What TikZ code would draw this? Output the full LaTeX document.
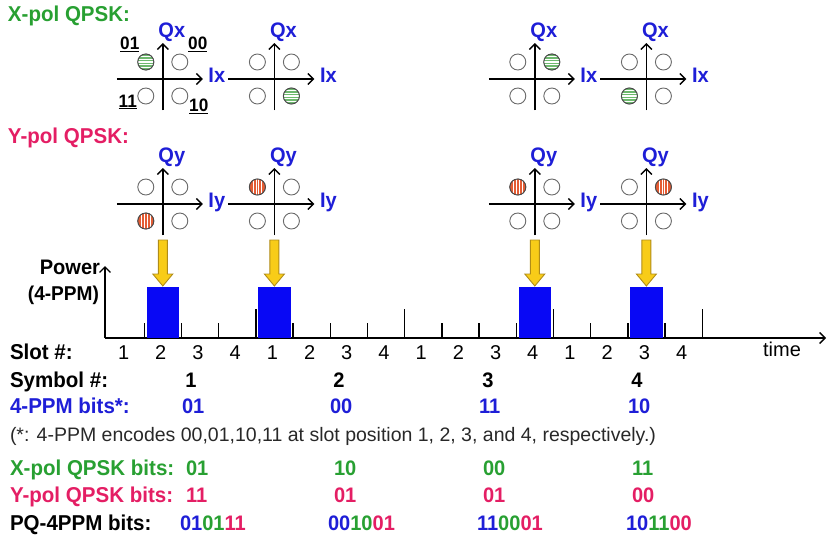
\documentclass[tikz,border=0pt]{standalone}
\usepackage{fontspec}
\setmainfont{Liberation Sans}[BoldFeatures={FakeStretch=0.955}]
\usetikzlibrary{arrows.meta}

\definecolor{xgreen}{RGB}{40,160,50}
\definecolor{ypink}{RGB}{228,30,100}
\definecolor{lblue}{RGB}{30,30,215}
\definecolor{pulseblue}{RGB}{8,8,245}
\definecolor{arrowyellow}{RGB}{248,204,24}
\definecolor{arrowedge}{RGB}{176,140,24}
\definecolor{ringgray}{RGB}{105,105,105}
\definecolor{dotgreen}{RGB}{110,185,110}
\definecolor{dotred}{RGB}{228,92,52}
\definecolor{notegray}{RGB}{40,40,40}

\newcommand\txtsize[1]{\fontsize{#1}{#1}\selectfont}

\tikzset{
  every node/.style={inner sep=0pt, outer sep=0pt},
  axisline/.style={line width=1.5pt, -{Straight Barb[length=5.5pt,width=11pt,line width=1.4pt]}},
  hdr/.style={font=\txtsize{21.5}\bfseries, anchor=mid west},
  axlbl/.style={font=\txtsize{21}\bfseries, text=lblue},
  bitlbl/.style={font=\txtsize{18}\bfseries},
  slotlbl/.style={font=\txtsize{20}, anchor=mid},
  vallbl/.style={font=\txtsize{21}\bfseries, anchor=mid west},
  ring/.style={draw=ringgray, line width=0.9pt, fill=white},
  pulse/.style={fill=pulseblue, minimum width=32.2pt, minimum height=51pt},
  yarrow/.style={fill=arrowyellow, draw=arrowedge, line width=0.9pt},
}

% #1 name, #2 x, #3 y, #4 axis suffix (x or y), #5/#6 quadrant of the marked point
\newcommand\qpsk[6]{%
  \begin{scope}[shift={(#2,#3)}]
    \coordinate (#1-c) at (0,0);
    \draw[axisline] (-46,0) -- (40,0);
    \draw[line width=1.5pt] (0,31) -- (0,0);
    \draw[axisline] (0,31) -- (0,-36);
    \node[axlbl, anchor=mid] (#1-I) at (54,1) {I#4};
    \node[axlbl, anchor=mid] (#1-Q) at (9,-44) {Q#4};
    \foreach \sx/\sy in {-1/-1,1/-1,-1/1,1/1}
      \draw[ring] (17*\sx,17*\sy) circle[radius=8pt];
    \begin{scope}[shift={(17*#5,17*#6)}]
      \begin{scope}
        \clip (0,0) circle[radius=8pt];
        \if x#4
          \fill[dotgreen] (0,0) circle[radius=8pt];
          \foreach \d in {-5.4,-2.7,0,2.7,5.4}
            \draw[white, line width=1.1pt] (-9,\d) -- (9,\d);
        \else
          \fill[dotred] (0,0) circle[radius=8pt];
          \foreach \d in {-4.2,-1.4,1.4,4.2}
            \draw[white, line width=1.0pt] (\d,-9) -- (\d,9);
        \fi
      \end{scope}
      \draw[draw=ringgray!70!black, line width=0.9pt] (0,0) circle[radius=8pt];
    \end{scope}
  \end{scope}}

\begin{document}
\begin{tikzpicture}[x=1pt,y=-1pt]
\useasboundingbox (0,0) rectangle (827,544);

% section titles
\node[hdr, text=xgreen] (xtitle) at (8,19) {X-pol QPSK:};
\node[hdr, text=ypink] (ytitle) at (8,141) {Y-pol QPSK:};

% time axis
\coordinate (org) at (105,338);
\coordinate (powtop) at (105,266);
\coordinate (timeend) at (826,338);
\draw[axisline] (org) -- (powtop);
\draw[axisline] (org) -- (timeend);
\node[font=\txtsize{21}\bfseries, anchor=mid east] (powlbl) at (100,272) {Power};
\node[font=\txtsize{20}\bfseries, anchor=mid east] (ppmlbl) at (99,298) {(4-PPM)};

% pulses, constellations and yellow pointers, one per symbol
\foreach \i/\k/\xa/\xb/\ya/\yb in {1/1/-1/-1/-1/1, 2/4/1/1/-1/-1, 3/11/1/-1/-1/-1, 4/14/-1/1/1/-1}{
  \pgfmathsetmacro\cx{107+37.2*(\k+0.5)}
  \node[pulse] (p\i) at (\cx,312.5) {};
  \qpsk{x\i}{\cx}{79}{x}{\xa}{\xb}
  \qpsk{y\i}{\cx}{204}{y}{\ya}{\yb}
  \coordinate (a\i) at (\cx,240);
  \draw[yarrow] ([xshift=-4.5pt]a\i) -- ([xshift=4.5pt]a\i)
    -- ([xshift=4.5pt,yshift=13pt]p\i.north) -- ([xshift=10pt,yshift=13pt]p\i.north)
    -- ([yshift=1pt]p\i.north) -- ([xshift=-10pt,yshift=13pt]p\i.north)
    -- ([xshift=-4.5pt,yshift=13pt]p\i.north) -- cycle;
}

% slot ticks: tall at symbol boundaries
\foreach \k in {1,...,16}{
  \pgfmathsetmacro\tx{107+37.2*\k}
  \pgfmathsetmacro\th{mod(\k,4)==0 ? 29 : 15}
  \draw[line width=1.4pt] (\tx,338) -- (\tx,338-\th);
}

% slot numbers
\foreach \k in {0,...,15}{
  \pgfmathsetmacro\sx{107+37.2*(\k+0.5)-2}
  \pgfmathtruncatemacro\sn{mod(\k,4)+1}
  \node[slotlbl] (s\k) at (\sx,357) {\sn};
}
\node[slotlbl] (timelbl) at (782,354) {time};

% bit labels of the first constellation
\node[bitlbl] (b01) at ([shift={(-33,-35)}]x1-c) {\underline{01}};
\node[bitlbl] (b00) at ([shift={(35,-35)}]x1-c) {\underline{00}};
\node[bitlbl] (b11) at ([shift={(-35,23)}]x1-c) {\underline{11}};
\node[bitlbl] (b10) at ([shift={(36,27)}]x1-c) {\underline{10}};

% table rows
\node[hdr] (slothdr) at (10,357) {Slot \#:};
\node[hdr] (symhdr) at (10,385) {Symbol \#:};
\node[hdr, text=lblue] (ppmhdr) at (10,411) {4-PPM bits*:};
\node[font=\txtsize{19.5}, text=notegray, anchor=mid west] (note) at (10,439)
  {(*: 4-PPM encodes 00,01,10,11 at slot position 1, 2, 3, and 4, respectively.)};
\node[hdr, text=xgreen] (xhdr) at (10,473) {X-pol QPSK bits:};
\node[hdr, text=ypink] (yhdr) at (10,500) {Y-pol QPSK bits:};
\node[hdr] (pqhdr) at (10,528) {PQ-4PPM bits:};

\foreach \i/\cx/\sym/\ppm/\xb/\yb in {1/182/1/01/01/11, 2/330/2/00/10/01, 3/479/3/11/00/01, 4/628/4/10/11/00}{
  \node[font=\txtsize{21}\bfseries, anchor=mid] (sym\i) at (\cx+9,385) {\sym};
  \node[vallbl, text=lblue] (ppm\i) at (\cx,411) {\ppm};
  \node[vallbl, text=xgreen] (xb\i) at (\cx+4,473) {\xb};
  \node[vallbl, text=ypink] (yb\i) at (\cx+4,500) {\yb};
  \node[vallbl] (pq\i) at (\cx-2,528)
    {\textcolor{lblue}{\ppm}\textcolor{xgreen}{\xb}\textcolor{ypink}{\yb}};
}
\end{tikzpicture}
\end{document}
